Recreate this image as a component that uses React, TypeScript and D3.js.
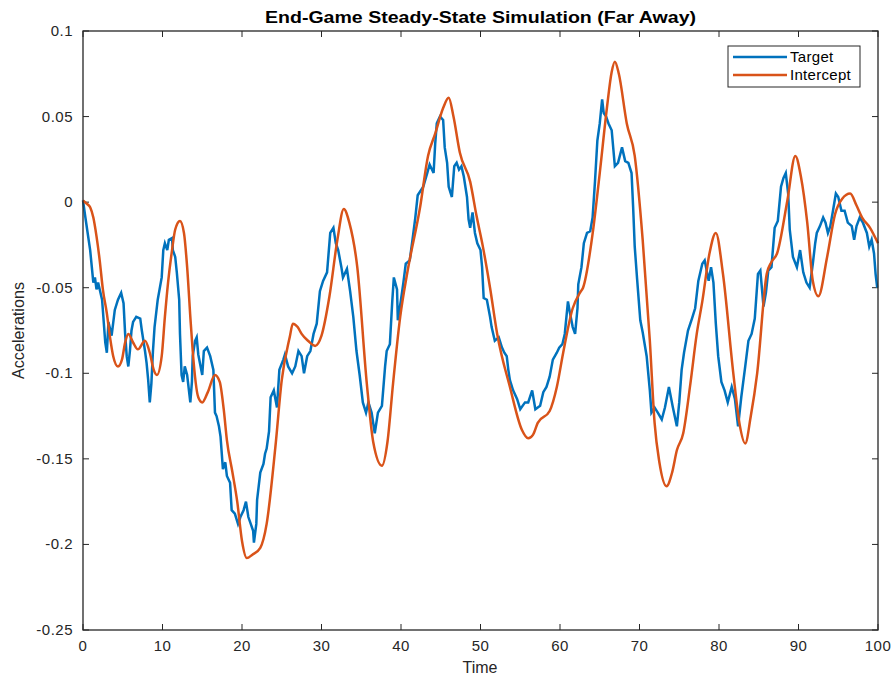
import React from "react";
import * as d3 from "d3";

const targetTime = [0,0.3,0.9,1.3,1.5,1.7,1.9,2.4,2.8,3.0,3.2,3.6,4.0,4.4,4.8,5.1,5.3,5.5,5.7,5.9,6.1,6.3,6.7,7.2,7.4,7.8,8.0,8.2,8.4,8.6,8.8,9.0,9.4,9.9,10.1,10.3,10.6,10.8,11.2,11.3,11.6,11.8,12.1,12.2,12.4,12.6,12.8,13.1,13.2,13.5,13.7,13.8,14.1,14.3,14.5,15.0,15.2,15.6,16.0,16.4,16.6,16.8,17.1,17.3,17.6,17.9,18.1,18.5,18.7,19.1,19.5,19.8,20.2,20.5,20.8,21.1,21.4,21.5,21.8,21.9,22.3,22.7,22.9,23.1,23.4,23.6,24.0,24.4,24.7,25.2,25.4,25.8,26.3,26.7,27.1,27.5,27.8,28.2,28.6,29.0,29.4,29.8,30.2,30.7,31.1,31.5,31.8,32.1,32.5,32.7,33.2,33.6,34.0,34.4,34.8,35.2,35.6,35.9,36.3,36.7,37.1,37.6,38.0,38.2,38.6,38.9,39.1,39.5,39.6,40.0,40.3,40.6,41.1,41.5,41.8,42.1,42.8,43.3,43.6,44.1,44.3,44.5,44.9,45.3,45.5,45.8,46.0,46.4,46.7,47.0,47.3,47.6,47.9,48.3,48.5,48.7,49.0,49.3,49.6,50.0,50.2,50.4,50.8,51.2,51.4,51.8,52.3,52.7,53.0,53.3,53.5,53.7,54.1,54.6,55.0,55.6,56.0,56.5,56.9,57.5,57.9,58.3,58.7,59.1,59.6,59.9,60.3,60.6,61.0,61.3,61.6,61.9,62.2,62.3,62.7,63.0,63.4,63.8,64.1,64.4,64.7,65.0,65.3,65.5,65.8,66.1,66.5,66.9,67.3,67.8,68.2,68.6,69.0,69.2,69.4,69.7,70.1,70.4,70.9,71.3,71.5,71.9,72.3,72.8,73.2,73.7,74.2,74.7,75.0,75.3,75.6,76.1,76.6,77.0,77.4,77.9,78.2,78.7,79.0,79.3,79.6,79.9,80.3,80.7,81.1,81.6,82.0,82.4,82.8,83.3,83.7,84.1,84.5,84.9,85.2,85.6,85.9,86.2,86.6,87.0,87.4,87.8,88.1,88.4,88.7,88.9,89.3,89.8,90.2,90.6,91.0,91.4,91.8,92.1,92.3,92.7,93.1,93.4,93.7,94.0,94.3,94.7,95.0,95.4,95.8,96.2,96.7,97.0,97.3,97.7,98.1,98.6,98.9,99.2,99.5,99.7,99.9];
const targetValue = [0.001,-0.009,-0.028,-0.047,-0.044,-0.051,-0.047,-0.057,-0.082,-0.088,-0.070,-0.078,-0.063,-0.057,-0.053,-0.059,-0.077,-0.090,-0.096,-0.087,-0.075,-0.070,-0.067,-0.068,-0.075,-0.087,-0.094,-0.104,-0.117,-0.106,-0.087,-0.073,-0.057,-0.044,-0.028,-0.024,-0.028,-0.022,-0.021,-0.028,-0.032,-0.041,-0.057,-0.077,-0.101,-0.105,-0.096,-0.101,-0.105,-0.117,-0.105,-0.090,-0.081,-0.079,-0.089,-0.101,-0.087,-0.085,-0.090,-0.098,-0.123,-0.125,-0.131,-0.137,-0.156,-0.152,-0.160,-0.164,-0.180,-0.182,-0.188,-0.184,-0.180,-0.175,-0.184,-0.188,-0.192,-0.199,-0.188,-0.174,-0.158,-0.153,-0.147,-0.144,-0.134,-0.114,-0.110,-0.120,-0.098,-0.092,-0.089,-0.096,-0.100,-0.096,-0.087,-0.090,-0.100,-0.090,-0.087,-0.077,-0.071,-0.052,-0.046,-0.041,-0.018,-0.015,-0.024,-0.028,-0.038,-0.044,-0.039,-0.052,-0.067,-0.087,-0.101,-0.117,-0.123,-0.117,-0.123,-0.135,-0.123,-0.119,-0.096,-0.087,-0.083,-0.058,-0.044,-0.051,-0.069,-0.057,-0.047,-0.036,-0.034,-0.020,-0.009,0.004,0.009,0.017,0.022,0.017,0.034,0.046,0.050,0.048,0.032,0.023,0.009,0.003,0.021,0.023,0.019,0.021,0.015,0.003,-0.010,-0.015,-0.006,-0.018,-0.024,-0.028,-0.038,-0.056,-0.057,-0.067,-0.073,-0.081,-0.079,-0.085,-0.088,-0.090,-0.098,-0.104,-0.110,-0.115,-0.121,-0.117,-0.117,-0.110,-0.121,-0.119,-0.111,-0.108,-0.102,-0.092,-0.088,-0.085,-0.083,-0.077,-0.058,-0.066,-0.073,-0.077,-0.062,-0.048,-0.038,-0.024,-0.018,-0.017,-0.009,0.012,0.036,0.046,0.060,0.052,0.050,0.046,0.042,0.021,0.023,0.032,0.024,0.023,0.017,-0.003,-0.026,-0.045,-0.069,-0.076,-0.090,-0.110,-0.123,-0.120,-0.123,-0.127,-0.120,-0.108,-0.120,-0.131,-0.117,-0.098,-0.088,-0.075,-0.068,-0.062,-0.046,-0.036,-0.034,-0.046,-0.038,-0.047,-0.071,-0.090,-0.105,-0.110,-0.117,-0.108,-0.115,-0.131,-0.114,-0.096,-0.081,-0.077,-0.068,-0.042,-0.040,-0.061,-0.053,-0.040,-0.038,-0.015,-0.011,0.009,0.014,0.017,0.005,-0.016,-0.032,-0.038,-0.028,-0.041,-0.047,-0.050,-0.036,-0.024,-0.018,-0.014,-0.009,-0.012,-0.018,-0.014,-0.006,0.005,0.003,-0.005,-0.005,-0.012,-0.014,-0.022,-0.014,-0.009,-0.012,-0.018,-0.026,-0.022,-0.030,-0.042,-0.050];

const interceptTime = [0,0.5,0.9,1.3,1.7,2.1,2.5,3.0,3.4,3.8,4.4,4.9,5.3,5.7,6.3,6.9,7.8,8.4,8.9,9.3,9.9,10.3,10.7,11.2,11.6,12.2,12.7,13.1,13.5,13.8,14.5,15.0,15.7,16.6,17.2,17.7,18.1,18.8,19.4,20.0,20.6,21.3,22.3,23.1,24.2,25.0,26.0,26.4,27.0,27.5,28.3,29.2,30.0,31.0,32.0,32.8,33.5,34.5,35.7,36.5,37.6,38.3,39.0,39.9,40.8,42.4,43.4,44.3,45.3,46.0,46.6,47.4,48.7,49.5,50.3,51.2,52.1,53.7,55.2,56.0,56.6,57.2,58.7,59.6,60.4,61.6,62.5,62.9,64.2,65.0,65.9,66.5,66.9,67.4,68.4,69.4,70.4,71.3,71.9,72.5,73.4,74.1,74.7,75.5,76.4,77.2,77.9,78.8,79.6,80.5,81.8,82.6,83.3,84.0,84.8,86.0,86.6,87.3,88.6,89.6,90.3,91.1,91.8,92.5,93.6,94.6,95.5,96.5,97.3,98.0,99.0,100];
const interceptValue = [0.001,-0.001,-0.003,-0.009,-0.020,-0.034,-0.051,-0.065,-0.079,-0.090,-0.096,-0.092,-0.082,-0.077,-0.082,-0.086,-0.081,-0.088,-0.098,-0.101,-0.090,-0.067,-0.047,-0.028,-0.016,-0.011,-0.018,-0.038,-0.067,-0.087,-0.114,-0.117,-0.111,-0.101,-0.105,-0.121,-0.139,-0.158,-0.175,-0.198,-0.208,-0.206,-0.202,-0.188,-0.143,-0.104,-0.079,-0.071,-0.073,-0.077,-0.081,-0.084,-0.078,-0.055,-0.022,-0.004,-0.012,-0.038,-0.106,-0.140,-0.154,-0.140,-0.106,-0.067,-0.041,-0.003,0.027,0.040,0.055,0.061,0.050,0.029,0.012,-0.008,-0.026,-0.050,-0.077,-0.108,-0.133,-0.138,-0.136,-0.129,-0.122,-0.108,-0.088,-0.062,-0.053,-0.050,-0.015,0.017,0.055,0.076,0.082,0.075,0.046,0.027,-0.022,-0.081,-0.129,-0.152,-0.166,-0.158,-0.145,-0.135,-0.106,-0.077,-0.058,-0.030,-0.018,-0.042,-0.100,-0.130,-0.141,-0.125,-0.100,-0.042,-0.035,-0.030,0.001,0.027,0.015,-0.012,-0.046,-0.055,-0.032,-0.007,0.002,0.005,-0.002,-0.009,-0.015,-0.024];

const xTicks = [0,10,20,30,40,50,60,70,80,90,100];
const yTicks = [0.1,0.05,0,-0.05,-0.1,-0.15,-0.2,-0.25];
const yTickLabels = ["0.1","0.05","0","-0.05","-0.1","-0.15","-0.2","-0.25"];
const seriesNames = ["Target", "Intercept"];
const seriesColors = ["#0072BD", "#D95319"];

export default function App() {
  const W = 891, H = 677;
  const L = 83, R = 878, T = 31, B = 630;
  const x = d3.scaleLinear().domain([0, 100]).range([L, R]);
  const y = d3.scaleLinear().domain([-0.25, 0.1]).range([B, T]);
  const targetLine = d3.line<number>().x((_, i) => x(targetTime[i])).y((d) => y(d));
  const interceptLine = d3.line<number>().x((_, i) => x(interceptTime[i])).y((d) => y(d)).curve(d3.curveMonotoneX);
  const axisColor = "#262626";
  const font = "'Liberation Sans', Arial, sans-serif";
  const tickLen = 6;
  return (
    <svg width={W} height={H} style={{ position: "absolute", left: 0, top: 0, background: "#fff" }} fontFamily={font}>
      <rect x={0} y={0} width={W} height={H} fill="#fff" />
      {xTicks.map((t) => (
        <g key={"x" + t}>
          <line x1={x(t)} x2={x(t)} y1={B} y2={B - tickLen} stroke={axisColor} strokeWidth={1} />
          <line x1={x(t)} x2={x(t)} y1={T} y2={T + tickLen} stroke={axisColor} strokeWidth={1} />
          <text x={x(t)} y={651} textAnchor="middle" fontSize={15} letterSpacing={0.5} fill={axisColor}>{t}</text>
        </g>
      ))}
      {yTicks.map((t, i) => (
        <g key={"y" + i}>
          <line x1={L} x2={L + tickLen} y1={y(t)} y2={y(t)} stroke={axisColor} strokeWidth={1} />
          <line x1={R} x2={R - tickLen} y1={y(t)} y2={y(t)} stroke={axisColor} strokeWidth={1} />
          <text x={73} y={y(t) + 5} textAnchor="end" fontSize={15} letterSpacing={0.5} fill={axisColor}>{yTickLabels[i]}</text>
        </g>
      ))}
      <path d={targetLine(targetValue) || ""} fill="none" stroke={seriesColors[0]} strokeWidth={2.5} strokeLinejoin="miter" />
      <path d={interceptLine(interceptValue) || ""} fill="none" stroke={seriesColors[1]} strokeWidth={2.5} strokeLinejoin="round" />
      <rect x={L} y={T} width={R - L} height={B - T} fill="none" stroke={axisColor} strokeWidth={1.3} />
      <text x={(L + R) / 2} y={23} textAnchor="middle" fontSize={16} fontWeight="bold" fill="#000" textLength={431} lengthAdjust="spacingAndGlyphs">End-Game Steady-State Simulation (Far Away)</text>
      <text x={480} y={673} textAnchor="middle" fontSize={16} fill={axisColor}>Time</text>
      <text transform={`translate(24, ${(T + B) / 2}) rotate(-90)`} textAnchor="middle" fontSize={16} fill={axisColor} textLength={97} lengthAdjust="spacingAndGlyphs">Accelerations</text>
      <rect x={728} y={46} width={132} height={41} fill="#fff" stroke={axisColor} strokeWidth={1} />
      {seriesNames.map((n, i) => (
        <g key={n}>
          <line x1={733} x2={787} y1={57 + i * 18} y2={57 + i * 18} stroke={seriesColors[i]} strokeWidth={2.5} />
          <text x={790} y={62 + i * 18} fontSize={15} fill="#000" letterSpacing={0.3}>{n}</text>
        </g>
      ))}
    </svg>
  );
}
